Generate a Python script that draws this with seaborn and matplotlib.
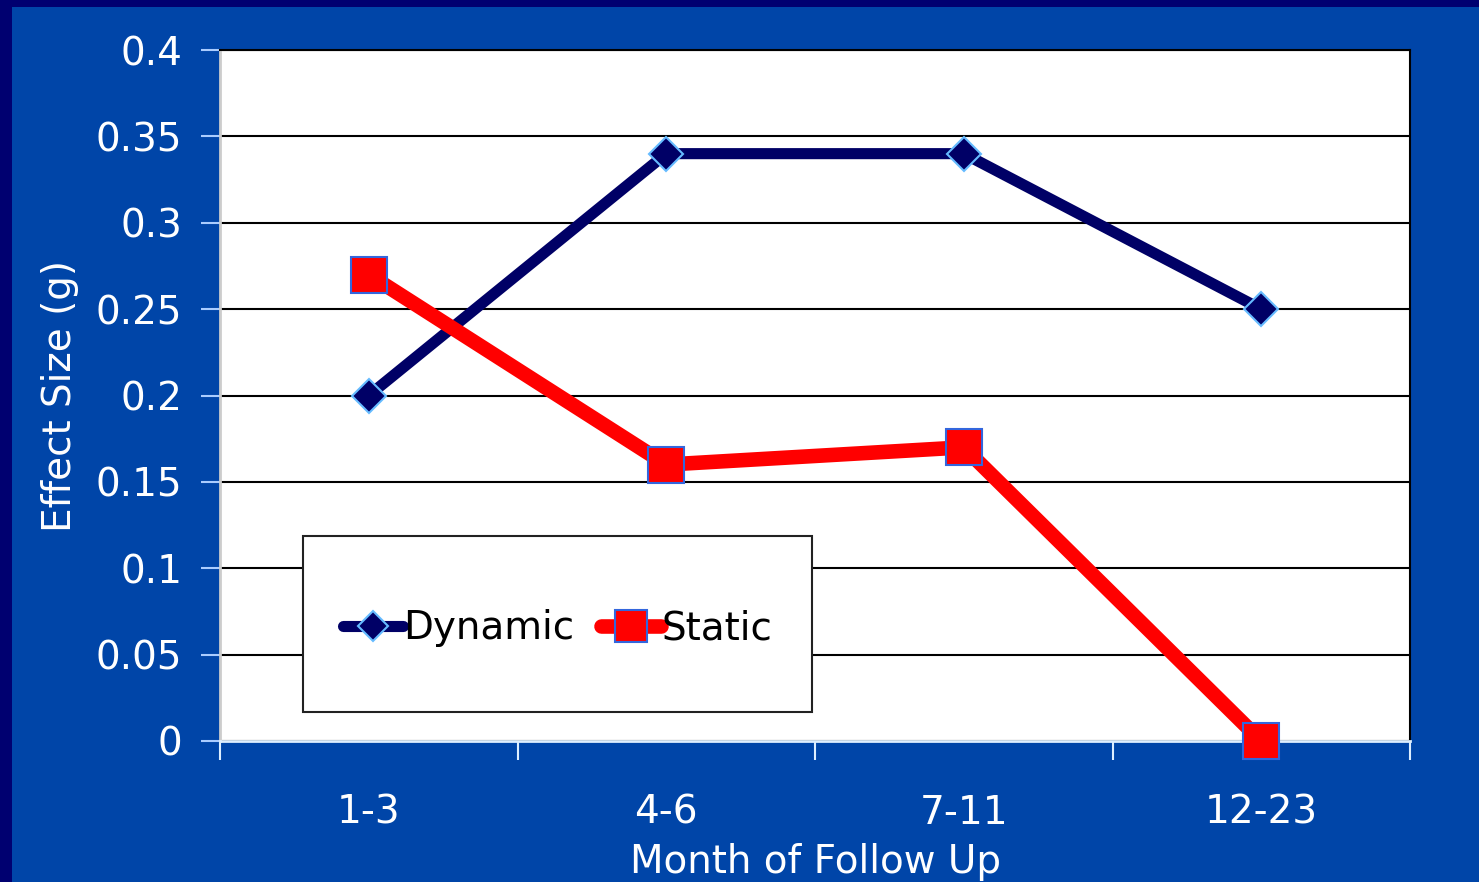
import matplotlib
matplotlib.use("Agg")
import matplotlib.pyplot as plt
import seaborn as sns
import pandas as pd
from matplotlib.patches import Rectangle

# chart data
months = ["1-3", "4-6", "7-11", "12-23"]
dynamic = [0.20, 0.34, 0.34, 0.25]
static = [0.27, 0.16, 0.17, 0.00]
y_ticks = [0, 0.05, 0.1, 0.15, 0.2, 0.25, 0.3, 0.35, 0.4]
y_tick_labels = ["0", "0.05", "0.1", "0.15", "0.2", "0.25", "0.3", "0.35", "0.4"]

df = pd.DataFrame({
    "month": months * 2,
    "value": dynamic + static,
    "series": ["Dynamic"] * 4 + ["Static"] * 4,
})

sns.set_style("white")
plt.rcParams["font.family"] = ["DejaVu Sans"]

bg = "#0045a8"
navy = "#000070"
fig = plt.figure(figsize=(14.79, 8.82), dpi=100, facecolor=bg)
# dark navy strips along top and left edge of the slide
fig.patches.append(Rectangle((0, 1 - 7 / 882), 1, 7 / 882, transform=fig.transFigure,
                             facecolor=navy, edgecolor="none", zorder=0))
fig.patches.append(Rectangle((0, 0), 12 / 1479, 1, transform=fig.transFigure,
                             facecolor=navy, edgecolor="none", zorder=0))

ax = fig.add_axes([220 / 1479, 1 - 741 / 882, 1190 / 1479, 691 / 882])
ax.set_facecolor("white")

sns.lineplot(data=df[df.series == "Dynamic"], x="month", y="value", ax=ax,
             color="#000066", linewidth=8, marker="D", markersize=17,
             markerfacecolor="#000066", markeredgecolor="#66bbff", markeredgewidth=1.5,
             label="Dynamic", sort=False, zorder=3, clip_on=False)
sns.lineplot(data=df[df.series == "Static"], x="month", y="value", ax=ax,
             color="#ff0000", linewidth=10.5, marker="s", markersize=26,
             markerfacecolor="#ff0000", markeredgecolor="#3366dd", markeredgewidth=1.5,
             label="Static", sort=False, zorder=4, clip_on=False)

ax.set_xlim(-0.5, 3.5)
ax.set_ylim(0, 0.4)
ax.set_yticks(y_ticks)
ax.set_yticklabels(y_tick_labels)
ax.set_xticks(range(len(months)))
ax.set_xticklabels(months)
ax.set_xticks([-0.5, 0.5, 1.5, 2.5, 3.5], minor=True)

ax.grid(axis="y", color="black", linewidth=1.5, zorder=1)
ax.set_axisbelow(True)

ax.tick_params(axis="y", which="major", length=14, width=1.5, color="#aaccff",
               labelcolor="white", labelsize=28, pad=13, direction="out", left=True)
ax.tick_params(axis="x", which="major", length=0, labelsize=28, labelcolor="white", pad=38)
ax.tick_params(axis="x", which="minor", length=14, width=1.5, color="#ddeeff",
               direction="out", bottom=True)

for side in ["top", "right"]:
    ax.spines[side].set_color("black")
    ax.spines[side].set_linewidth(1.5)
ax.spines["left"].set_color("#cccccc")
ax.spines["left"].set_linewidth(2)
ax.spines["bottom"].set_color("#ddeeff")
ax.spines["bottom"].set_linewidth(2)

ax.set_xlabel("Month of Follow Up", color="white", fontsize=28, labelpad=8)
ax.set_ylabel("Effect Size (g)", color="white", fontsize=28, labelpad=12)

# legend box (white panel over the gridlines)
ax.add_patch(Rectangle((83 / 1190, 29 / 691), 509 / 1190, 176 / 691, transform=ax.transAxes,
                       facecolor="white", edgecolor="#222222", linewidth=1.5, zorder=2))
leg = ax.legend(loc="center", bbox_to_anchor=(0.2836, 0.163), ncol=2, fontsize=28,
                frameon=False, borderpad=0, handlelength=1.55,
                handletextpad=0.0, columnspacing=0.7, markerscale=0.9, labelcolor="black")
leg.set_zorder(5)

fig.savefig("out.png", dpi=100, facecolor=bg)
